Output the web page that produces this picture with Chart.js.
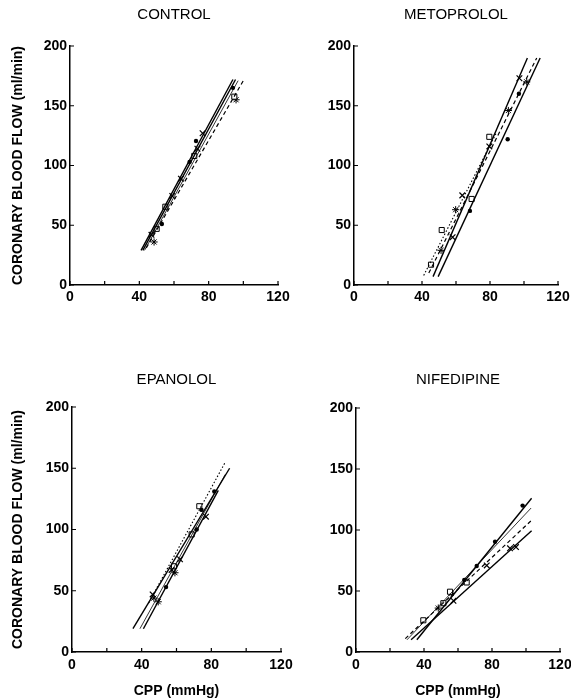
<!DOCTYPE html>
<html>
<head>
<meta charset="utf-8">
<script src="https://cdn.jsdelivr.net/npm/chart.js@4/dist/chart.umd.min.js"></script>
<style>
  body { margin: 0; background: #fff; }
  #page { position: relative; width: 571px; height: 700px; overflow: hidden; }
  .panel { position: absolute; }
</style>
</head>
<body>
<div id="page">
  <div class="panel" style="left:0;top:0;width:300px;height:310px"><canvas id="control"></canvas></div>
  <div class="panel" style="left:285px;top:0;width:286px;height:310px"><canvas id="metoprolol"></canvas></div>
  <div class="panel" style="left:0;top:360px;width:300px;height:340px"><canvas id="epanolol"></canvas></div>
  <div class="panel" style="left:285px;top:360px;width:286px;height:340px"><canvas id="nifedipine"></canvas></div>
</div>
<script>
// tick labels
const xLabels = [0, 40, 80, 120];
const yLabels = [0, 50, 100, 150, 200];

// CONTROL  (points as [CPP, flow], lines as [x1, y1, x2, y2])
const controlPlus = [[47, 42], [59, 74.5], [64, 89], [73.5, 114], [76.5, 127]];
const controlDot = [[53, 51], [69, 103], [72.7, 120.5], [94, 165]];
const controlSquare = [[50, 47], [55, 65.5], [71.7, 108], [94.8, 157.6]];
const controlStar = [[48.5, 36], [95.8, 155]];
const controlLines = [[41, 29, 94, 172], [42, 29, 95.5, 172], [43, 29, 97, 171], [44, 31, 100, 171]];

// METOPROLOL
const metoPlus = [[58, 40], [63.7, 75], [79.6, 116], [97.3, 173]];
const metoDot = [[68.2, 62], [90.4, 122], [97, 160]];
const metoSquare = [[45.3, 17], [51.6, 46], [69.2, 72], [79.6, 124]];
const metoStar = [[51.2, 29], [59.8, 63], [90.8, 146], [101.6, 170]];
const metoLines = [[41, 8, 84, 128], [46.5, 7, 102, 190], [44, 10, 107.5, 190], [49.5, 7, 109.5, 190]];

// EPANOLOL
const epaPlus = [[46.3, 47], [57.2, 67], [62, 75.7], [76.9, 110.5]];
const epaDot = [[54, 53], [71.6, 100], [74.4, 116], [81.7, 131]];
const epaSquare = [[58.6, 70], [68.7, 96], [73.1, 119]];
const epaStar = [[47, 44], [49.5, 41], [59.1, 64.7]];
const epaLines = [[35, 19, 90.5, 150], [39, 19, 88, 145], [41, 19, 84, 132], [44, 40, 88, 155]];

// NIFEDIPINE
const nifePlus = [[57.3, 42], [76.9, 71], [90.6, 85], [94.1, 86]];
const nifeDot = [[63.7, 59], [71, 70.5], [81.8, 90.4], [98, 120]];
const nifeSquare = [[39.6, 26], [51.4, 40], [55.3, 49.4], [65.1, 57]];
const nifeStar = [[48.4, 36], [56, 48]];
const nifeLines = [[35.8, 10, 103.3, 126], [30, 10, 103, 118], [29, 11, 103, 107.6], [32.4, 10, 103.3, 99.4]];

const FONT = '"Liberation Sans", Arial, Helvetica, sans-serif';

const lineKinds = {
    solid: { borderWidth: 1.4, borderDash: [] },
    thin: { borderWidth: 0.8, borderDash: [] },
    dashed: { borderWidth: 1.2, borderDash: [4, 3] },
    dotted: { borderWidth: 1.1, borderDash: [1.5, 2] }
};

function pts(arr) {
    return arr.map(p => ({ x: p[0], y: p[1] }));
}

function markerSets(plus, dot, square, star) {
    return [
        { data: pts(plus), pointStyle: 'crossRot', pointRadius: 4, borderWidth: 1.2, borderColor: '#000' },
        { data: pts(dot), pointStyle: 'circle', pointRadius: 2.2, borderWidth: 0, backgroundColor: '#000' },
        { data: pts(square), pointStyle: 'rect', pointRadius: 3.6, borderWidth: 1, borderColor: '#000', backgroundColor: '#fff' },
        { data: pts(star), pointStyle: 'star', pointRadius: 3.6, borderWidth: 1, borderColor: '#000' }
    ].map(d => Object.assign({ showLine: false }, d));
}

function lineSets(lines, kinds) {
    return lines.map((l, i) => Object.assign({
        data: [{ x: l[0], y: l[1] }, { x: l[2], y: l[3] }],
        showLine: true,
        pointRadius: 0,
        borderColor: '#000',
        fill: false
    }, lineKinds[kinds[i]]));
}

// small tick marks pointing into the plot, like the original
const inwardTicks = {
    id: 'inwardTicks',
    afterDraw(chart) {
        const { ctx, chartArea, scales } = chart;
        ctx.save();
        ctx.strokeStyle = '#000';
        ctx.lineWidth = 1.2;
        ctx.beginPath();
        scales.x.ticks.forEach(t => {
            const px = scales.x.getPixelForValue(t.value);
            ctx.moveTo(px, chartArea.bottom);
            ctx.lineTo(px, chartArea.bottom - 4);
        });
        scales.y.ticks.forEach(t => {
            const py = scales.y.getPixelForValue(t.value);
            ctx.moveTo(chartArea.left, py);
            ctx.lineTo(chartArea.left + 4, py);
        });
        ctx.stroke();
        ctx.restore();
    }
};

function makePanel(id, title, box, datasets, yTitle, xTitle) {
    const ctx = document.getElementById(id).getContext('2d');
    new Chart(ctx, {
        type: 'scatter',
        data: { datasets: datasets },
        options: {
            responsive: true,
            maintainAspectRatio: false,
            animation: false,
            layout: { padding: { left: 0, top: 0, right: box.w - box.r, bottom: 0 } },
            plugins: {
                legend: { display: false },
                tooltip: { enabled: false },
                title: {
                    display: true,
                    text: title,
                    fullSize: false,
                    color: '#000',
                    font: { family: FONT, size: 15, weight: 'normal', lineHeight: 1.2 },
                    padding: { top: box.tt, bottom: box.t - box.tt - 18 }
                }
            },
            scales: {
                x: {
                    type: 'linear',
                    min: 0,
                    max: 120,
                    grid: { display: false, drawTicks: false },
                    border: { display: true, color: '#000', width: 1.5 },
                    ticks: {
                        stepSize: 20,
                        autoSkip: false,
                        maxRotation: 0,
                        padding: box.xp,
                        color: '#000',
                        font: { family: FONT, size: 14, weight: 'bold' },
                        callback: v => xLabels.includes(v) ? v : ''
                    },
                    title: {
                        display: xTitle,
                        text: 'CPP (mmHg)',
                        color: '#000',
                        font: { family: FONT, size: 14, weight: 'bold' },
                        padding: { top: 0, bottom: 0 }
                    },
                    afterFit(s) {
                        s.height = box.h - box.b;
                        s.paddingLeft = 0;
                        s.paddingRight = 0;
                    }
                },
                y: {
                    min: 0,
                    max: 200,
                    grid: { display: false, drawTicks: false },
                    border: { display: true, color: '#000', width: 1.5 },
                    ticks: {
                        stepSize: 50,
                        padding: 3,
                        color: '#000',
                        font: { family: FONT, size: 14, weight: 'bold' },
                        callback: v => yLabels.includes(v) ? v : ''
                    },
                    title: {
                        display: yTitle,
                        text: 'CORONARY BLOOD FLOW (ml/min)',
                        color: '#000',
                        font: { family: FONT, size: 14, weight: 'bold' },
                        padding: { top: 10, bottom: 0 }
                    },
                    afterFit(s) {
                        s.width = box.l;
                        s.paddingTop = 0;
                        s.paddingBottom = 0;
                    }
                }
            }
        },
        plugins: [inwardTicks]
    });
}

makePanel('control', 'CONTROL',
    { w: 300, h: 310, l: 70, t: 46, r: 278, b: 285, tt: 6, xp: 4 },
    lineSets(controlLines, ['solid', 'solid', 'thin', 'dashed'])
        .concat(markerSets(controlPlus, controlDot, controlSquare, controlStar)),
    true, false);

makePanel('metoprolol', 'METOPROLOL',
    { w: 286, h: 310, l: 69, t: 46, r: 273, b: 285, tt: 6, xp: 4 },
    lineSets(metoLines, ['dotted', 'solid', 'dashed', 'solid'])
        .concat(markerSets(metoPlus, metoDot, metoSquare, metoStar)),
    false, false);

makePanel('epanolol', 'EPANOLOL',
    { w: 300, h: 340, l: 72, t: 47, r: 281, b: 292, tt: 11, xp: 5 },
    lineSets(epaLines, ['solid', 'thin', 'solid', 'dotted'])
        .concat(markerSets(epaPlus, epaDot, epaSquare, epaStar)),
    true, true);

makePanel('nifedipine', 'NIFEDIPINE',
    { w: 286, h: 340, l: 71, t: 48, r: 275, b: 292, tt: 11, xp: 5 },
    lineSets(nifeLines, ['solid', 'thin', 'dashed', 'solid'])
        .concat(markerSets(nifePlus, nifeDot, nifeSquare, nifeStar)),
    false, true);
</script>
</body>
</html>
